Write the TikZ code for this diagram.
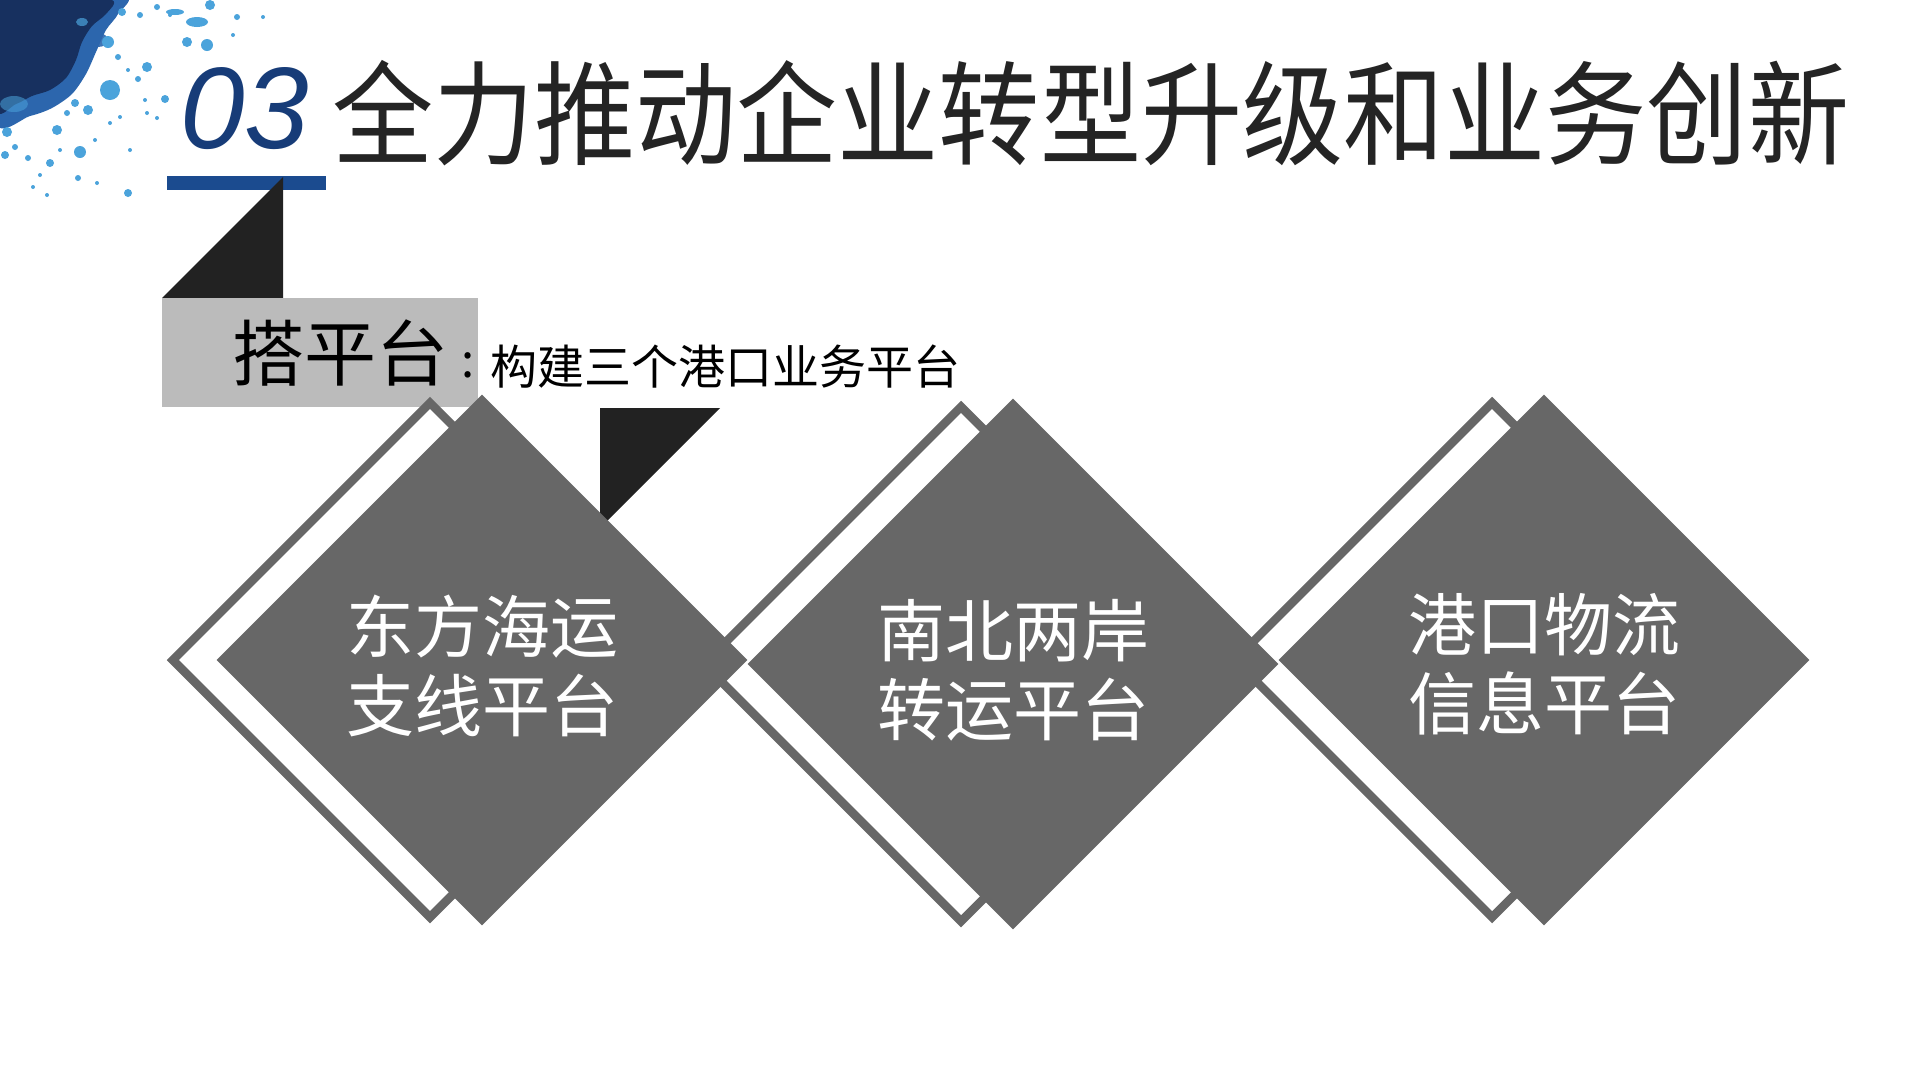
\documentclass[tikz,border=0pt]{standalone}
\usepackage{fontspec}
\setmainfont{Liberation Sans}
\newfontfamily\cjk{Noto Sans CJK SC}
\usetikzlibrary{shapes.geometric}
\definecolor{diagray}{HTML}{676767}
\definecolor{darktri}{HTML}{222222}
\definecolor{rectgray}{HTML}{BBBBBB}
\definecolor{blueno}{HTML}{173C78}
\definecolor{bluebar}{HTML}{1B4B8F}
\definecolor{titleink}{HTML}{242424}
\definecolor{navy}{HTML}{17305F}
\definecolor{midblue}{HTML}{2C66AD}
\definecolor{lightblue}{HTML}{4BA3DB}
\tikzset{
  diaout/.style={diamond, aspect=1, draw=diagray, line width=8.5pt, fill=white,
    minimum width=518pt, minimum height=518pt, inner sep=0pt},
  diafill/.style={diamond, aspect=1, fill=diagray, draw=none,
    minimum width=531pt, minimum height=531pt, inner sep=0pt},
  dtext/.style={text=white, font=\cjk\fontsize{68}{79}\selectfont, align=center, inner sep=0pt},
  drop/.style={fill=lightblue},
}
\begin{document}
\begin{tikzpicture}[x=1pt,y=-1pt]
\useasboundingbox (0,0) rectangle (1920,1080);
\fill[white] (0,0) rectangle (1920,1080);

% ink splash
\fill[midblue] plot[smooth cycle] coordinates {(-5,-5) (122,-5) (118,14) (106,30) (96,52) (86,74) (72,94) (52,108) (30,116) (-5,122)};
\fill[navy] plot[smooth cycle] coordinates {(-5,-5) (60,-5) (112,0) (106,14) (92,26) (82,42) (76,60) (66,78) (50,90) (32,96) (16,104) (-5,108)};
\fill[lightblue, opacity=0.55] (14,104) ellipse (14pt and 8pt);
\fill[midblue, opacity=0.9] (98,40) ellipse (10pt and 7pt);
\fill[lightblue, opacity=0.7] (82,22) ellipse (6pt and 4pt);
\foreach \x/\y/\r in {157/7/3, 210/5/5, 187/42/5, 207/45/6, 237/17/3, 263/17/2,
  147/67/5, 165/99/4, 138/79/3, 110/90/10, 88/110/5, 57/130/5, 80/152/6,
  128/193/4, 33/187/2, 47/195/2, 50/163/4, 28/158/3, 5/155/4, 7/132/5,
  15/147/3, 78/178/3, 97/183/2, 108/42/6, 118/57/3, 128/70/2, 157/118/2,
  147/113/2, 120/117/2, 110/123/2, 75/103/4, 67/113/3, 122/12/4, 140/15/3,
  170/15/2, 233/35/2, 95/140/2, 60/150/2, 40/175/2, 130/150/2, 145/100/2}
  \fill[drop] (\x,\y) circle (\r pt);
\fill[drop] (197,22) ellipse (11pt and 5pt);
\fill[drop] (175,12) ellipse (9pt and 3pt);

% title
\fill[bluebar] (167,176) rectangle (326,190);
\node[font=\fontsize{116}{116}\selectfont\itshape, text=blueno, inner sep=0pt] (num) at (245,108.5) {03};
\begin{scope}[shift={(332,113.5)}, xscale=0.895]
\node[font=\cjk\fontsize{113}{113}\selectfont, text=titleink, anchor=west, inner sep=0pt, transform shape] (title) at (0,0) {全力推动企业转型升级和业务创新};
\end{scope}

% tag
\fill[darktri] (162,298) -- (283,177) -- (283,298) -- cycle;
\node[rectangle, fill=rectgray, minimum width=316pt, minimum height=109pt, inner sep=0pt, anchor=north west] (tag) at (162,298) {};
\node[font=\cjk\fontsize{72}{72}\selectfont, text=black, inner sep=0pt] (tagtext) at (340,353) {搭平台};
\node[font=\cjk\fontsize{47}{47}\selectfont, text=black, inner sep=0pt] (colon) at (468,365) {:};
\node[font=\cjk\fontsize{47}{47}\selectfont, text=black, anchor=west, inner sep=0pt] (sub) at (490,366.5) {构建三个港口业务平台};

\fill[darktri] (600,408) -- (720,408) -- (600,528) -- cycle;

% outlines
\node[diaout] (o1) at (430,660) {};
\node[diaout] (o2) at (961,664) {};
\node[diaout] (o3) at (1492,660) {};
% filled diamonds
\node[diafill] (d1) at (482,660) {};
\node[diafill] (d2) at (1013,664) {};
\node[diafill] (d3) at (1544,660) {};
% texts
\node[dtext] (t1) at (d1.center) [yshift=-6pt] {东方海运\\支线平台};
\node[dtext] (t2) at (d2.center) [yshift=-6pt] {南北两岸\\转运平台};
\node[dtext] (t3) at (d3.center) [yshift=-4pt] {港口物流\\信息平台};
\end{tikzpicture}
\end{document}
